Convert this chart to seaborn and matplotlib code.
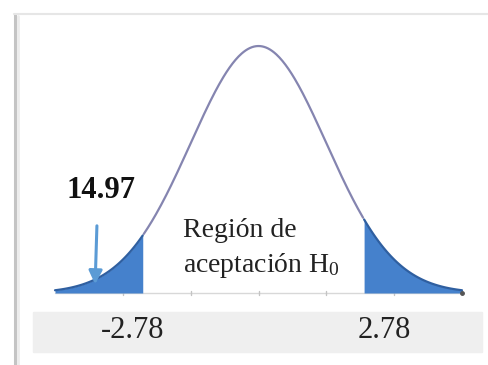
import numpy as np
import pandas as pd
import matplotlib.pyplot as plt
import seaborn as sns
from matplotlib.lines import Line2D
from matplotlib.patches import Rectangle

# curve / regions (standardised units)
z_range = [-3.0, 3.0]
tail_edges = [-1.70, 1.55]
minor_ticks = [-2, -1, 0, 1, 2]
crit_labels = ['-2.78', '2.78']
crit_label_pos = [-1.85, 1.86]
stat_label = '14.97'
stat_pos = -2.32
region_text = ['Región de', 'aceptación H$_0$']


def normal_pdf(z):
    return np.exp(-z ** 2 / 2) / np.sqrt(2 * np.pi)


sns.set_style('white')
plt.rcParams['font.family'] = ['Liberation Serif', 'DejaVu Serif']
plt.rcParams['mathtext.fontset'] = 'custom'
plt.rcParams['mathtext.rm'] = 'Liberation Serif'
plt.rcParams['mathtext.it'] = 'Liberation Serif'

z = np.linspace(z_range[0], z_range[1], 400)
df = pd.DataFrame({'z': z, 'density': normal_pdf(z)})

fig = plt.figure(figsize=(4.88, 3.65), dpi=100)
ax = fig.add_axes([0, 0, 1, 1])
ax.set_xlim(-3.811, 3.383)
ax.set_ylim(-0.1163, 0.4733)
ax.axis('off')

# page frame and label band
fig.add_artist(Line2D([14.5 / 488, 14.5 / 488], [0, 1 - 14 / 365], color='#c4c4c4', lw=2.2))
fig.add_artist(Line2D([17.5 / 488, 17.5 / 488], [0, 1 - 16 / 365], color='#ececec', lw=2))
fig.add_artist(Line2D([14 / 488, 1], [1 - 14 / 365, 1 - 14 / 365], color='#e6e6e6', lw=1.5))
fig.add_artist(Rectangle((33 / 488, 1 - 352 / 365), 449 / 488, 40 / 365,
                         transform=fig.transFigure, color='#efefef', zorder=0))

# baseline with small ticks
ax.plot(z_range, [0, 0], color='#d8d8d8', lw=1, zorder=1)
for t in minor_ticks:
    ax.plot([t, t], [-0.003, 0.003], color='#c4c4c4', lw=1, zorder=1)
ax.plot([z_range[1]], [0], 'o', color='#555555', ms=2.5, zorder=4)

# rejection tails
left = df[df.z <= tail_edges[0]]
right = df[df.z >= tail_edges[1]]
for part in (left, right):
    ax.fill_between(part.z, 0, part.density, color='#4581cc', lw=0, zorder=2)
    ax.plot(part.z, part.density, color='#2f5fa0', lw=1.6, zorder=3)

sns.lineplot(data=df[(df.z > tail_edges[0]) & (df.z < tail_edges[1])], x='z', y='density',
             ax=ax, color='#8585b0', lw=1.6, zorder=3)

# labels
for lab, pos in zip(crit_labels, crit_label_pos):
    ax.text(pos, -0.0727, lab, ha='center', va='baseline', fontsize=22, color='#222222')

ax.text(stat_pos, 0.1534, stat_label, ha='center', va='baseline', fontsize=22,
        fontweight='bold', color='#111111')
ax.annotate('', xy=(-2.41, 0.0097), xytext=(-2.381, 0.113),
            arrowprops=dict(arrowstyle='-|>', color='#5b9bd5', lw=2.2, mutation_scale=20),
            zorder=5)

ax.text(-1.113, 0.0905, region_text[0], ha='left', va='baseline', fontsize=20, color='#222222')
ax.text(-1.113, 0.0339, region_text[1], ha='left', va='baseline', fontsize=20, color='#222222')

fig.savefig('out.png', dpi=100)
